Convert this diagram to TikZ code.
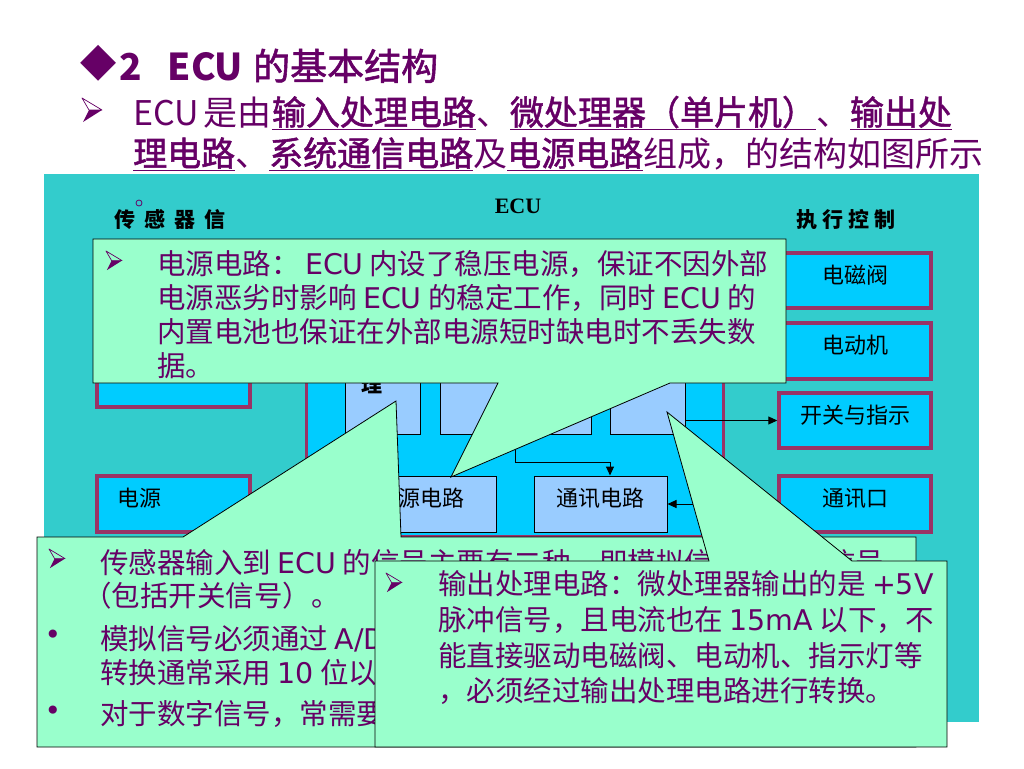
\documentclass[tikz,border=0pt]{standalone}
\usepackage{fontspec}
\setmainfont{Noto Sans CJK SC}
\newfontfamily\cjkb[FakeBold=1.5]{Noto Sans CJK SC}
\newfontfamily\djv{DejaVu Sans}
\newfontfamily\tms{Liberation Serif}
\usetikzlibrary{arrows.meta}
\definecolor{panelteal}{HTML}{33CCCC}
\definecolor{boxcyan}{HTML}{00CCFF}
\definecolor{boxrim}{HTML}{993366}
\definecolor{innerblue}{HTML}{99CCFF}
\definecolor{mintfill}{HTML}{99FFCC}
\definecolor{inkpurple}{HTML}{660066}
\newcommand\fsz[1]{\fontsize{#1}{#1}\selectfont}
% stretchable glue between CJK characters (for justified lines)
\XeTeXinterchartokenstate=1
\newcount\cjkcnt
\def\setcjkrange#1#2{\cjkcnt=#1\relax\loop\XeTeXcharclass\cjkcnt=10\relax\advance\cjkcnt by 1\relax\ifnum\cjkcnt<#2\relax\repeat}
\setcjkrange{"3000}{"3040}
\setcjkrange{"4E00}{"A000}
\setcjkrange{"FF00}{"FFF0}
\XeTeXinterchartoks 10 10 = {\hskip0pt plus 2pt\relax}
\newcommand\jline[2]{\hbox to #1{#2}}
\newcommand\lat[1]{{\djv #1}}
\tikzset{
  arrowbul/.pic={
    \draw[inkpurple,line width=0.7pt,line join=round] (0,0) -- (20,12) -- (7,12) -- cycle;
    \fill[inkpurple] (7,12) -- (20,12) -- (1,24) -- cycle;
  }
}
\begin{document}
\begin{tikzpicture}[x=1pt,y=-1pt,
  rimbox/.style={fill=boxcyan,draw=boxrim,line width=3.5pt,inner sep=0pt,text height=16pt,text depth=11pt,font=\fsz{22}},
  inbox/.style={fill=innerblue,draw=black,line width=1pt,inner sep=0pt,text height=16pt,text depth=11pt,font=\fsz{22}},
  conn/.style={draw=black,line width=1pt,-{Triangle[length=9pt,width=8pt]}},
  callout/.style={fill=mintfill,draw=black,line width=0.8pt},
  ct/.style={anchor=base west,inner sep=0pt,text=inkpurple,font=\fsz{28.5}},
  bul/.style={anchor=center,inner sep=0pt,text=inkpurple,font=\djv\fsz{28}},
  lbl/.style={anchor=base west,inner sep=0pt,font=\bfseries\fsz{21}},
]
\useasboundingbox (0,0) rectangle (1024,768);
\fill[white] (0,0) rectangle (1024,768);

% ---------- title ----------
\node[anchor=center,inner sep=0pt,text=inkpurple,font=\djv\fsz{47}] (dia) at (99,63) {◆};
\node[anchor=base west,inner sep=0pt,text=inkpurple,font=\bfseries\fsz{37}] (ttl) at (119,80)
  {2\hspace{26pt}ECU\hspace{10pt}{\normalfont\cjkb 的基本结构}};
\pic at (82,98) {arrowbul};
\node[anchor=base west,inner sep=0pt,text=inkpurple,font=\fsz{34}] (l2) at (133,125)
  {\jline{817pt}{ECU 是由\underline{\cjkb 输入处理电路}、\underline{\cjkb 微处理器（单片机）}、\underline{\cjkb 输出处}}};
\node[anchor=base west,inner sep=0pt,text=inkpurple,font=\fsz{34}] (l3) at (133,166)
  {\jline{847pt}{\underline{\cjkb 理电路}、\underline{\cjkb 系统通信电路}及\underline{\cjkb 电源电路}组成，的结构如图所示}};

% ---------- diagram panel ----------
\fill[panelteal] (44,174) rectangle (979,722);

\node[font=\tms\bfseries\fsz{22},inner sep=0pt] (ecul) at (518,206) {ECU};
\node[lbl] (cgq) at (114,227.5) {传\hspace{9pt}感\hspace{9pt}器\hspace{9pt}信};
\node[lbl] (zxkz) at (796,227) {执\hspace{5pt}行\hspace{5pt}控\hspace{5pt}制};
\draw[inkpurple,line width=0.8pt] (139,203) circle (3);

% left column
\node[rimbox,minimum width=153pt,minimum height=67pt] (lsen) at (173.5,373.5) {};
\node[rimbox,minimum width=153pt,minimum height=56pt] (dy) at (173.5,504) {\makebox[113pt][l]{电源}};

% ECU box
\node[fill=boxcyan,draw=boxrim,line width=3pt,inner sep=0pt,minimum width=417pt,minimum height=236pt] (ecu) at (514.5,418) {};
\draw[black,line width=1pt] (ecu.south west) -- (ecu.south east);

\node[inbox,minimum width=75pt,minimum height=104pt] (bA) at (382.5,382) {};
\node[inbox,minimum width=151pt,minimum height=104pt] (bB) at (515.5,382) {};
\node[inbox,minimum width=75pt,minimum height=104pt] (bC) at (647.5,382) {};
\node[anchor=base,inner sep=0pt,font=\bfseries\fsz{21}] (li) at (372,392.5) {理};
\node[inbox,minimum width=151pt,minimum height=56pt] (dydl) at (420.5,504) {电源电路};
\node[inbox,minimum width=133pt,minimum height=56pt] (txdl) at (600.5,504) {通讯电路};

% right column
\node[rimbox,minimum width=152pt,minimum height=55pt] (dcf) at (855,280.5) {电磁阀};
\node[rimbox,minimum width=152pt,minimum height=56pt] (ddj) at (855,351) {电动机};
\node[rimbox,minimum width=152pt,minimum height=55pt] (kg) at (855,420.5) {开关与指示};
\node[rimbox,minimum width=152pt,minimum height=56pt] (txk) at (855,504) {通讯口};

% connectors
\draw[conn] (bC.east |- kg.west) -- (kg.west);
\coordinate (jt) at (610,462);
\draw[conn] (bB.south) |- (jt) -- (jt |- txdl.north);
\draw[conn] (txk.west) -- (txdl.east);

% ---------- callout: power supply ----------
\draw[callout] (93,239) -- (786,239) -- (786,383) -- (670,383) -- (451,477) -- (498,383) -- (93,383) -- cycle;
\pic[scale=0.8] at (106,251) {arrowbul};
\node[ct] (p1) at (157,274) {\jline{611pt}{电源电路：\ \lat{ECU} 内设了稳压电源，保证不因外部}};
\node[ct] (p2) at (157,308) {电源恶劣时影响 \lat{ECU} 的稳定工作，同时 \lat{ECU} 的};
\node[ct] (p3) at (157,342) {内置电池也保证在外部电源短时缺电时不丢失数};
\node[ct] (p4) at (157,376) {据。};

% ---------- callout: sensor input ----------
\draw[callout] (37,537) -- (183,537) -- (396,401) -- (401,537) -- (916,537) -- (916,747) -- (37,747) -- cycle;
\pic[scale=0.8] at (49,549) {arrowbul};
\node[ct] (s1) at (100,573) {传感器输入到 \lat{ECU} 的信号主要有二种，即模拟信号和数字信号};
\node[ct] (s2) at (83,606) {（包括开关信号）。};
\node[bul] (bu1) at (53,637) {•};
\node[ct] (s3) at (100,649) {模拟信号必须通过 \lat{A/D}};
\node[ct] (s4) at (100,683) {转换通常采用 \lat{10} 位以};
\node[bul] (bu2) at (53,713) {•};
\node[ct] (s5) at (100,724) {对于数字信号，常需要};

% ---------- callout: output ----------
\draw[callout] (375,561) -- (709,561) -- (667,412) -- (852,561) -- (947,561) -- (947,747) -- (375,747) -- cycle;
\pic[scale=0.8] at (386,573) {arrowbul};
\node[ct] (o1) at (438,594) {输出处理电路：微处理器输出的是 \lat{+5V}};
\node[ct] (o2) at (438,630) {脉冲信号，且电流也在 \lat{15mA} 以下，不};
\node[ct] (o3) at (438,666) {能直接驱动电磁阀、电动机、指示灯等};
\node[ct] (o4) at (438,701) {，必须经过输出处理电路进行转换。};
\end{tikzpicture}
\end{document}
